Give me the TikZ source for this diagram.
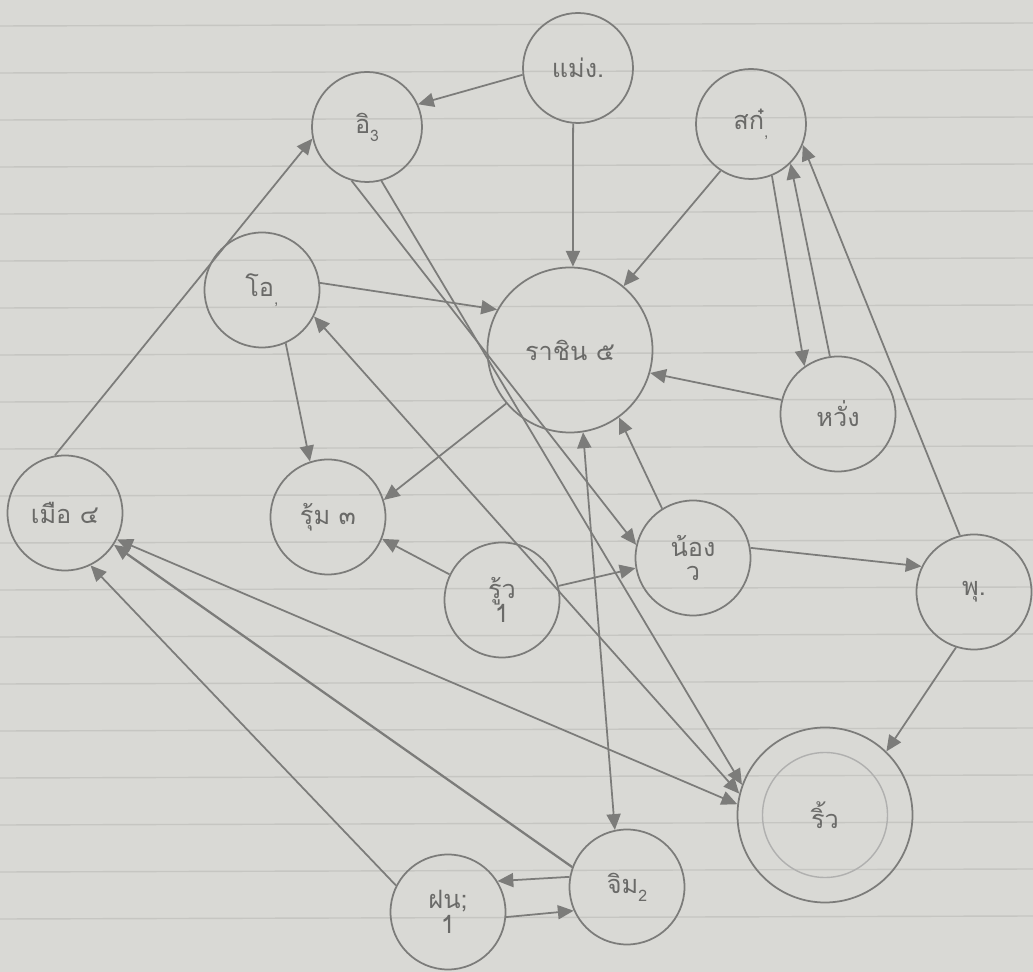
\documentclass[tikz,border=0pt]{standalone}
\usepackage{fontspec}
\newfontfamily\thaifont[Script=Thai]{Loma}
\usetikzlibrary{arrows.meta}
\definecolor{paper}{HTML}{D9D9D5}
\definecolor{rule}{HTML}{C6C6C2}
\definecolor{ink}{HTML}{7C7C7A}
\definecolor{inkd}{HTML}{6A6A68}
\newcommand\sbx[1]{\raisebox{-0.6ex}{\small #1}}
\tikzset{
  st/.style={circle,draw=ink,line width=1pt,inner sep=0pt,minimum size=2.3cm,
    font=\thaifont\Large,text=inkd,align=center},
  ed/.style={draw=ink,line width=1pt,-{Triangle[length=9pt,width=8pt]}},
  bd/.style={draw=ink,line width=1pt,{Triangle[length=9pt,width=8pt]}-{Triangle[length=9pt,width=8pt]}},
}
\begin{document}
\begin{tikzpicture}
\fill[paper] (0,0) rectangle (20.66,-19.44);
\useasboundingbox (0,0) rectangle (20.66,-19.44);
\foreach \k in {0,...,19}{
  \draw[rule,line width=0.8pt] (0,{-(0.52+0.94*\k)}) -- (20.66,{-(0.46+0.94*\k)});
}
% nodes
\node[st,minimum size=2.2cm] (A) at (7.34,-2.54) {อิ\sbx{3}};
\node[st,minimum size=2.2cm] (B) at (11.56,-1.36) {แม่ง.};
\node[st,minimum size=2.2cm] (C) at (15.02,-2.48) {สก๋\sbx{,}};
\node[st] (D) at (5.24,-5.8) {โอ\sbx{,}};
\node[st,minimum size=3.3cm] (E) at (11.4,-7.0) {ราชิน ๕};
\node[st] (F) at (16.76,-8.28) {หวั่ง};
\node[st] (G) at (1.3,-10.26) {เมือ ๔};
\node[st] (H) at (6.56,-10.34) {รุ้ม ๓};
\node[st] (I) at (10.04,-12.0) {รู้ว\\[-4pt]1};
\node[st] (J) at (13.86,-11.16) {น้อง\\[-4pt]ว};
\node[st] (K) at (19.48,-11.84) {พุ.};
\node[circle,draw=ink!60,line width=0.8pt,minimum size=2.5cm] (Li) at (16.5,-16.3) {};
\node[st,minimum size=3.5cm] (L) at (16.5,-16.3) {ริ้ว};
\node[st] (M) at (12.54,-17.74) {จิม\sbx{2}};
\node[st] (N) at (8.96,-18.24) {ฝน;\\[-4pt]1};
% edges
\draw[ed] (B.187) -- (A.24);
\draw[ed] (B.-95) -- (E.88);
\draw[ed] (C.-123) -- (E.50);
\draw[ed] (C.-68) -- (F.125);
\draw[ed] (F.98) -- (C.-45);
\draw[ed] (K.104) -- (C.-22);
\draw[ed] (F.166) -- (E.-16);
\draw[ed] (D.7) -- (E.151);
\draw[ed] (D.-66) -- (H.108);
\draw[ed] (E.220) -- (H.17);
\draw[ed] (G.100) -- (A.192);
\draw[ed] (A.-106) -- (J.167);
\draw[ed] (A.-75) -- (L.160);
\draw[bd] (D.-27) -- (L.166);
\draw[bd] (G.-27) -- (L.173);
\draw[ed] (I.154) -- (H.-22);
\draw[ed] (I.14) -- (J.190);
\draw[ed] (J.122) -- (E.-54);
\draw[ed] (J.10) -- (K.154);
\draw[ed] (K.-108) -- (L.46);
\draw[bd] (E.-81) -- (M.102);
\draw[ed] (M.170) -- (N.32);
\draw[ed] (N.-5) -- (M.204);
\draw[ed,line width=1.3pt] (M.160) -- (G.-33);
\draw[ed] (N.153) -- (G.-64);
\end{tikzpicture}
\end{document}
